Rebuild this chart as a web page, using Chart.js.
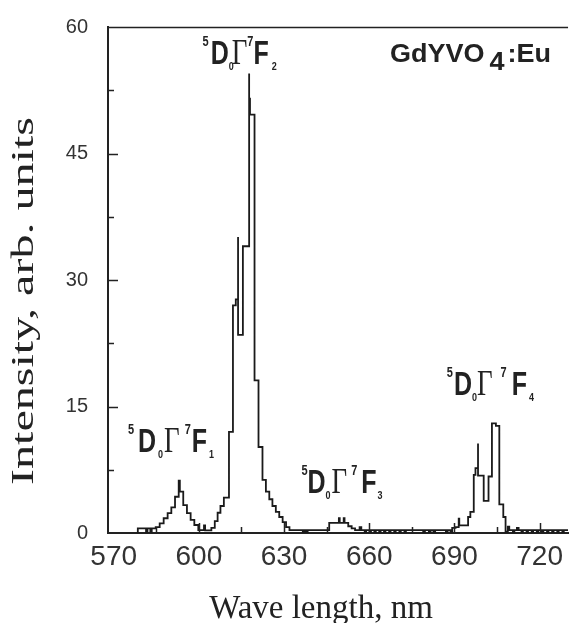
<!DOCTYPE html>
<html>
<head>
<meta charset="utf-8">
<script src="https://cdn.jsdelivr.net/npm/chart.js@4.4.0/dist/chart.umd.min.js"></script>
<style>
html, body { margin: 0; padding: 0; background: #fff; }
#wrap { width: 570px; height: 623px; }
</style>
</head>
<body>
<div id="wrap"><canvas id="chart1"></canvas></div>
<script>
// luminescence spectrum, step trace (nm, arb. units)
var wavelength = [
  578.5, 578.5, 581.4, 581.9, 582.9, 583.4, 584.8, 586.2, 587.6, 589.0,
  590.3, 591.6, 592.9, 593.3, 594.5, 595.8, 597.1, 598.4, 599.8, 601.8,
  602.2, 604.4, 605.6, 606.6, 607.6, 608.8, 610.6, 612.0, 613.0, 613.8,
  613.8, 615.5, 617.7, 617.7, 618.0, 619.6, 621.0, 622.4, 623.6, 624.8,
  625.9, 627.1, 628.3, 629.5, 630.7, 631.9, 636.6, 637.2, 637.8, 638.3,
  645.9, 649.3, 649.6, 651.0, 651.3, 652.6, 653.8, 655.0, 656.6, 657.2,
  658.4, 658.9, 660.1, 660.6, 661.8, 662.3, 663.5, 664.0, 665.2, 665.7,
  667.0, 667.5, 668.8, 669.3, 670.6, 671.1, 672.4, 672.9, 679.0, 679.6,
  681.0, 681.6, 682.6, 683.2, 687.0, 687.6, 688.6, 689.2, 690.4, 691.5,
  691.7, 694.8, 695.6, 696.8, 697.4, 698.3, 698.3, 700.3, 702.0, 703.2,
  704.6, 705.8, 707.2, 708.0, 708.8, 709.3, 710.6, 711.1, 712.0, 712.6,
  713.6, 714.1, 715.4, 715.9, 717.2, 717.7, 719.0, 719.5, 720.8, 721.3,
  722.6, 723.1, 724.4, 724.9, 726.2, 726.7, 728.0, 728.5, 730.0
];
var intensity = [
  0, 0.55, 0.15, 0.55, 0.15, 0.55, 0.7, 1.15, 1.75, 2.35,
  3.05, 4.3, 6.2, 4.9, 3.3, 2.35, 1.55, 0.95, 0.35, 0.9,
  0.3, 0.6, 1.4, 2.4, 3.2, 4.2, 12.0, 27.0, 27.7, 35.1,
  23.5, 34.0, 54.5, 51.5, 49.6, 18.1, 10.2, 6.3, 4.9, 4.0,
  3.2, 2.5, 1.9, 1.3, 0.7, 0.35, 0.1, 0.35, 0.1, 0.35,
  1.2, 1.75, 1.2, 1.75, 1.2, 0.8, 0.55, 0.35, 0.7, 0.35,
  0.05, 0.35, 0.05, 0.35, 0.05, 0.35, 0.05, 0.35, 0.05, 0.35,
  0.05, 0.35, 0.05, 0.35, 0.05, 0.35, 0.05, 0.35, 0.05, 0.35,
  0.05, 0.35, 0.05, 0.35, 0.05, 0.35, 0.05, 0.6, 0.7, 1.7,
  0.9, 1.9, 2.5, 6.9, 7.7, 10.6, 6.8, 3.8, 6.7, 13.0,
  12.7, 3.4, 1.9, 0.15, 0.75, 0.35, 0.05, 0.35, 0.6, 0.35,
  0.05, 0.35, 0.05, 0.35, 0.05, 0.35, 0.05, 0.35, 0.05, 0.35,
  0.05, 0.35, 0.05, 0.35, 0.05, 0.35, 0.05, 0.35, 0.35
];
var xTickValues = [570, 600, 630, 660, 690, 720];
var xMinorTicks = [585, 615, 645, 675, 705];
var yTickValues = [0, 15, 30, 45, 60];
var yMinorTicks = [7.5, 22.5, 37.5, 52.5];

// 5D0 -> 7FJ band labels, anchored at (nm, intensity)
var bandJ = ['2', '1', '3', '4'];
var bandWl = [601.3, 575.0, 636.1, 687.3];
var bandLevel = [55.6, 9.6, 4.75, 16.4];

// spacing before D, 0, Gamma, 7, F, J for each label
var bandSpacing = [
  [2, 0, -2, 0, 0, 3],
  [4, 2, 1, 5, 1, 2],
  [0, 0, 1, 4, 4, 1],
  [1, 0, 0, 8, 5, 2]
];

var INK = '#222';
var SANS = '"Liberation Sans", Arial, sans-serif';
var SERIF = '"Liberation Serif", "Times New Roman", serif';

function drawPieces(ctx, x, y, sy, pieces) {
  ctx.save();
  ctx.translate(x, y);
  ctx.scale(1, sy);
  ctx.textAlign = 'left';
  ctx.textBaseline = 'alphabetic';
  var cx = 0;
  pieces.forEach(function (p) {
    cx += p.gap || 0;
    ctx.font = p.font;
    ctx.fillText(p.text, cx, (p.dy || 0) / sy);
    cx += ctx.measureText(p.text).width;
  });
  ctx.restore();
}

var decor = {
  id: 'decor',
  afterDraw: function (chart) {
    var ctx = chart.ctx;
    var area = chart.chartArea;
    var xs = chart.scales.x;
    var ys = chart.scales.y;
    ctx.save();
    ctx.strokeStyle = INK;
    ctx.fillStyle = INK;

    // top frame line
    ctx.lineWidth = 1.5;
    ctx.beginPath();
    ctx.moveTo(area.left, area.top + 0.5);
    ctx.lineTo(area.right, area.top + 0.5);
    ctx.stroke();

    // inward tick marks
    ctx.beginPath();
    yTickValues.slice(1, -1).forEach(function (v) {
      var py = Math.round(ys.getPixelForValue(v)) + 0.5;
      ctx.moveTo(area.left, py); ctx.lineTo(area.left + 10, py);
    });
    yMinorTicks.forEach(function (v) {
      var py = Math.round(ys.getPixelForValue(v)) + 0.5;
      ctx.moveTo(area.left, py); ctx.lineTo(area.left + 6, py);
    });
    xTickValues.slice(1).forEach(function (v) {
      var px = Math.round(xs.getPixelForValue(v)) + 0.5;
      ctx.moveTo(px, area.bottom); ctx.lineTo(px, area.bottom - 10);
    });
    xMinorTicks.forEach(function (v) {
      var px = Math.round(xs.getPixelForValue(v)) + 0.5;
      ctx.moveTo(px, area.bottom); ctx.lineTo(px, area.bottom - 6);
    });
    ctx.stroke();

    // axis titles
    ctx.textAlign = 'center';
    ctx.textBaseline = 'alphabetic';
    ctx.font = '33px ' + SERIF;
    ctx.fillText('Wave length, nm', 321, 618);

    ctx.save();
    ctx.translate(33, 301);
    ctx.rotate(-Math.PI / 2);
    ctx.scale(1.55, 1);
    ctx.font = '31px ' + SERIF;
    ctx.fillText('Intensity, arb. units', 0, 0);
    ctx.restore();

    // transition labels
    var big = 'bold 25px ' + SANS;
    var gamma = '27px ' + SERIF;
    var sup = 'bold 11px ' + SANS;
    var sub = 'bold 9px ' + SANS;
    bandJ.forEach(function (j, i) {
      var g = bandSpacing[i];
      drawPieces(ctx, xs.getPixelForValue(bandWl[i]), ys.getPixelForValue(bandLevel[i]), 1.3, [
        {text: '5', font: sup, dy: -18},
        {text: 'D', font: big, gap: g[0]},
        {text: '0', font: sub, dy: 6, gap: g[1]},
        {text: '\u0393', font: gamma, gap: g[2]},
        {text: '7', font: sup, dy: -18, gap: g[3]},
        {text: 'F', font: big, gap: g[4]},
        {text: j, font: sub, dy: 6, gap: g[5]}
      ]);
    });

    // sample name
    var nameFont = 'bold 27px ' + SANS;
    drawPieces(ctx, xs.getPixelForValue(667.3), ys.getPixelForValue(55.8), 0.95, [
      {text: 'GdYVO', font: nameFont},
      {text: '4', font: 'bold 27px ' + SANS, gap: 5, dy: 8},
      {text: ':Eu', font: nameFont, gap: 3}
    ]);
    ctx.restore();
  }
};

var points = wavelength.map(function (w, i) {
  return {x: w, y: intensity[i]};
});

var ctx = document.getElementById('chart1');
var chart = new Chart(ctx, {
  type: 'line',
  data: {
    datasets: [{
      data: points,
      stepped: true,
      borderColor: '#1a1a1a',
      borderWidth: 1.8,
      pointRadius: 0,
      fill: false
    }]
  },
  options: {
    responsive: true,
    maintainAspectRatio: false,
    animation: false,
    layout: {padding: {top: 27, left: 0, right: 0, bottom: 0}},
    plugins: {legend: {display: false}, tooltip: {enabled: false}},
    scales: {
      x: {
        type: 'linear',
        min: 568,
        max: 730,
        afterBuildTicks: function (scale) {
          scale.ticks = xTickValues.map(function (v) { return {value: v}; });
        },
        afterFit: function (scale) { scale.height = 90; },
        grid: {display: false, drawTicks: false},
        border: {display: true, color: INK, width: 2},
        ticks: {
          font: {family: SANS, size: 28},
          color: '#333',
          padding: 7,
          maxRotation: 0,
          autoSkip: false
        }
      },
      y: {
        type: 'linear',
        min: 0,
        max: 60,
        afterBuildTicks: function (scale) {
          scale.ticks = yTickValues.map(function (v) { return {value: v}; });
        },
        afterFit: function (scale) {
          scale.width = 108;
          scale.paddingTop = 0;
          scale.paddingBottom = 0;
        },
        grid: {display: false, drawTicks: false},
        border: {display: true, color: INK, width: 2},
        ticks: {
          font: {family: SANS, size: 20},
          color: '#333',
          padding: 20
        }
      }
    }
  },
  plugins: [decor]
});
</script>
</body>
</html>
